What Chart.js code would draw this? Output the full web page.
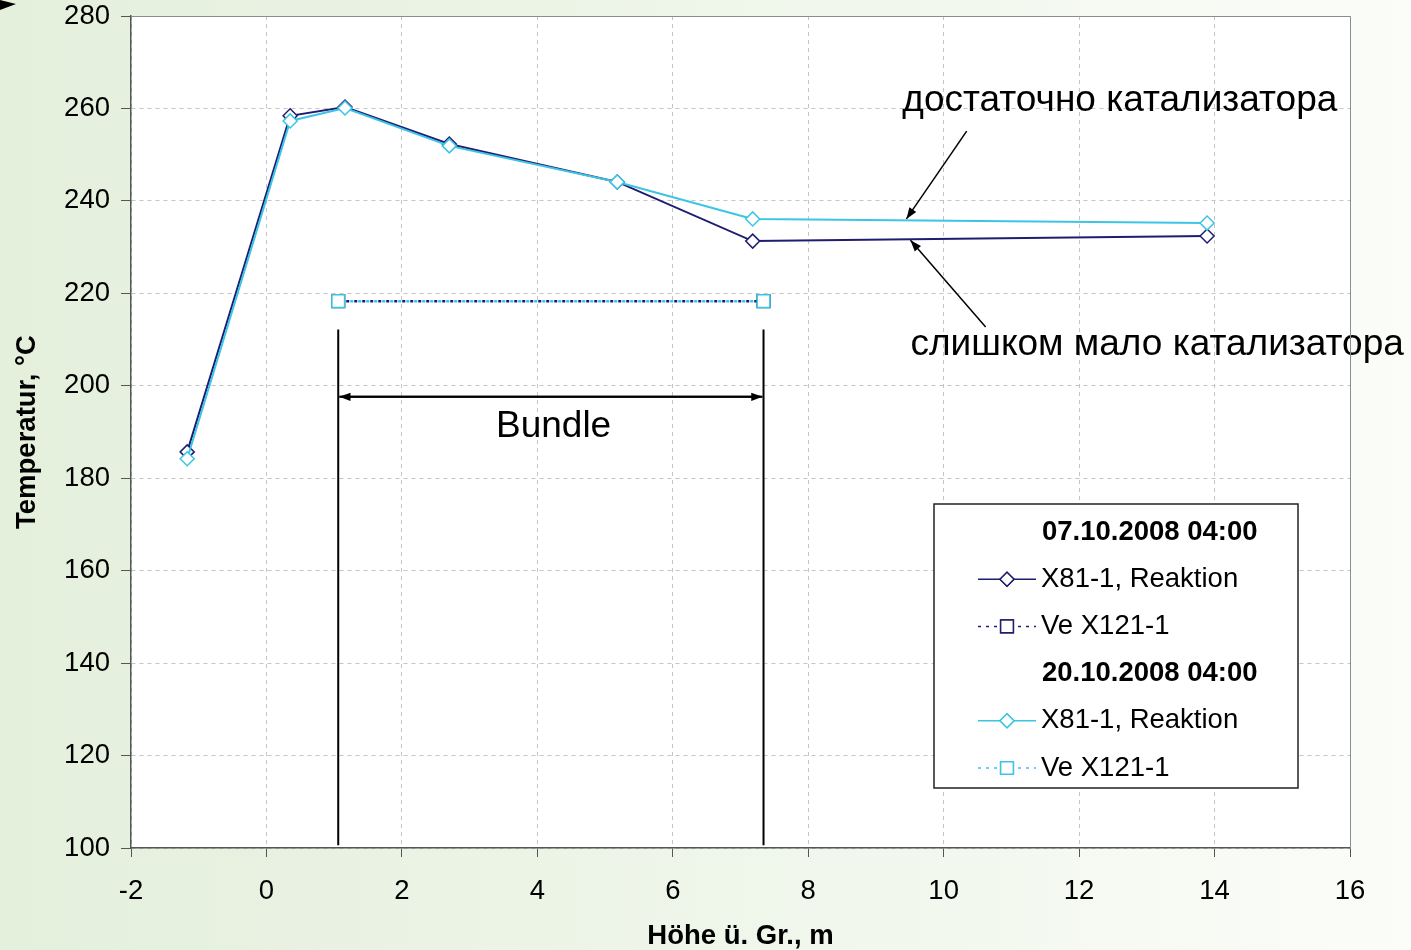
<!DOCTYPE html>
<html>
<head>
<meta charset="utf-8">
<script src="https://cdn.jsdelivr.net/npm/chart.js@4.4.1/dist/chart.umd.min.js"></script>
<style>
  html, body { margin: 0; padding: 0; background: #fff; }
  #wrap { width: 1411px; height: 950px; }
</style>
</head>
<body>
<div id="wrap"><canvas id="tempChart" width="1411" height="950"></canvas></div>
<script>
// positions along the height (m)
var heights = [-1.17, 0.35, 1.16, 2.70, 5.18, 7.18, 13.89];
// X81-1, Reaktion
var reakt0710 = [185.7, 258.4, 260.3, 252.3, 244.1, 231.3, 232.4];
var reakt2010 = [184.2, 257.3, 260.1, 251.9, 244.1, 236.1, 235.2];
// Ve X121-1
var veHeights = [1.06, 7.34];
var ve0710 = [218.3, 218.3];
var ve2010 = [218.3, 218.3];

var xTicks = [-2, 0, 2, 4, 6, 8, 10, 12, 14, 16];
var yTicks = [100, 120, 140, 160, 180, 200, 220, 240, 260, 280];

var darkBlue = '#1f1d70';
var cyan = '#3cc4e4';
var fontFamily = '"Liberation Sans", Arial, sans-serif';

function pairs(xs, ys) {
    return xs.map(function (x, i) { return { x: x, y: ys[i] }; });
}

var backgroundPlugin = {
    id: 'background',
    beforeDraw: function (chart) {
        var ctx = chart.ctx, a = chart.chartArea;
        ctx.save();
        var g = ctx.createLinearGradient(0, 0, chart.width, 0);
        g.addColorStop(0, '#e4efdc');
        g.addColorStop(0.6, '#f1f7ec');
        g.addColorStop(1, '#fbfdf9');
        ctx.fillStyle = g;
        ctx.fillRect(0, 0, chart.width, chart.height);
        ctx.fillStyle = '#ffffff';
        ctx.fillRect(a.left, a.top, a.right - a.left, a.bottom - a.top);
        ctx.restore();
    },
    afterDraw: function (chart) {
        var ctx = chart.ctx, a = chart.chartArea;
        ctx.save();
        // top and right frame
        ctx.strokeStyle = '#8c8c8c';
        ctx.lineWidth = 1;
        ctx.beginPath();
        ctx.moveTo(a.left, a.top + 0.5);
        ctx.lineTo(a.right + 0.5, a.top + 0.5);
        ctx.lineTo(a.right + 0.5, a.bottom);
        ctx.stroke();
        // arrow tip in the corner
        ctx.fillStyle = '#000';
        ctx.beginPath();
        ctx.moveTo(0, 0);
        ctx.lineTo(16, 4);
        ctx.lineTo(0, 10);
        ctx.closePath();
        ctx.fill();
        ctx.restore();
    }
};

function arrow(ctx, x1, y1, x2, y2, head) {
    var ang = Math.atan2(y2 - y1, x2 - x1);
    ctx.beginPath();
    ctx.moveTo(x1, y1);
    ctx.lineTo(x2, y2);
    ctx.stroke();
    ctx.beginPath();
    ctx.moveTo(x2, y2);
    ctx.lineTo(x2 - head * Math.cos(ang - 0.35), y2 - head * Math.sin(ang - 0.35));
    ctx.lineTo(x2 - head * Math.cos(ang + 0.35), y2 - head * Math.sin(ang + 0.35));
    ctx.closePath();
    ctx.fill();
}

var notesPlugin = {
    id: 'notes',
    afterDatasetsDraw: function (chart) {
        var ctx = chart.ctx;
        var xs = chart.scales.x, ys = chart.scales.y;
        var px = function (v) { return xs.getPixelForValue(v); };
        var py = function (v) { return ys.getPixelForValue(v); };
        ctx.save();
        ctx.strokeStyle = '#000';
        ctx.fillStyle = '#000';
        ctx.lineWidth = 2;

        // bundle markers
        [veHeights[0], veHeights[1]].forEach(function (h) {
            ctx.beginPath();
            ctx.moveTo(px(h), py(212.2));
            ctx.lineTo(px(h), py(100.6));
            ctx.stroke();
        });
        arrow(ctx, px(veHeights[1]) - 2, py(197.6), px(veHeights[0]) + 1, py(197.6), 12);
        arrow(ctx, px(veHeights[0]) + 2, py(197.6), px(veHeights[1]) - 1, py(197.6), 12);
        ctx.font = '37px ' + fontFamily;
        ctx.textAlign = 'center';
        ctx.textBaseline = 'middle';
        ctx.fillText('Bundle', px(4.24), py(191.1));

        // catalyst notes
        ctx.lineWidth = 1.5;
        arrow(ctx, px(10.34), py(255.1), px(9.45), py(236.1), 12);
        arrow(ctx, px(10.62), py(212.7), px(9.51), py(231.5), 12);
        ctx.textAlign = 'left';
        ctx.fillText('достаточно катализатора', px(9.39), py(261.6));
        ctx.fillText('слишком мало катализатора', px(9.51), py(208.8));
        ctx.restore();
    }
};

var legendPlugin = {
    id: 'boxLegend',
    afterDraw: function (chart) {
        var ctx = chart.ctx;
        var bx = 934, by = 504, bw = 364, bh = 284;
        ctx.save();
        ctx.fillStyle = '#fff';
        ctx.fillRect(bx, by, bw, bh);
        ctx.strokeStyle = '#222';
        ctx.lineWidth = 1.5;
        ctx.strokeRect(bx, by, bw, bh);

        var rows = [
            { header: '07.10.2008 04:00' },
            { ds: 0 },
            { ds: 1 },
            { header: '20.10.2008 04:00' },
            { ds: 2 },
            { ds: 3 }
        ];
        ctx.textBaseline = 'middle';
        rows.forEach(function (r, i) {
            var y = by + 28 + i * 47.2;
            if (r.header) {
                ctx.fillStyle = '#000';
                ctx.font = 'bold 27.5px ' + fontFamily;
                ctx.textAlign = 'left';
                ctx.fillText(r.header, 1042, y);
                return;
            }
            var d = chart.data.datasets[r.ds];
            ctx.strokeStyle = d.borderColor;
            ctx.lineWidth = 1.5;
            ctx.setLineDash(d.borderDash ? [3, 5] : []);
            ctx.beginPath();
            ctx.moveTo(978, y);
            ctx.lineTo(1036, y);
            ctx.stroke();
            ctx.setLineDash([]);
            Chart.helpers.drawPoint(ctx, {
                pointStyle: d.pointStyle,
                radius: d.pointStyle === 'rect' ? 9 : 7,
                borderWidth: 1.5
            }, 1007, y);
            ctx.fillStyle = '#fff';
            ctx.fill();
            ctx.stroke();
            ctx.fillStyle = '#000';
            ctx.font = '27.5px ' + fontFamily;
            ctx.textAlign = 'left';
            ctx.fillText(d.label, 1041, y);
        });
        ctx.restore();
    }
};

window.onload = function () {
    var ctx = document.getElementById('tempChart').getContext('2d');
    var tempChart = new Chart(ctx, {
        type: 'scatter',
        data: {
            datasets: [{
                label: 'X81-1, Reaktion',
                data: pairs(heights, reakt0710),
                order: 2,
                showLine: true,
                borderColor: darkBlue,
                backgroundColor: '#fff',
                borderWidth: 2,
                pointStyle: 'rectRot',
                pointRadius: 7,
                pointBorderWidth: 1.5
            }, {
                label: 'Ve X121-1',
                data: pairs(veHeights, ve0710),
                order: 3,
                showLine: true,
                borderColor: darkBlue,
                backgroundColor: '#fff',
                borderWidth: 2.5,
                borderDash: [3, 5],
                pointStyle: 'rect',
                pointRadius: 9,
                pointBorderWidth: 1.5
            }, {
                label: 'X81-1, Reaktion',
                data: pairs(heights, reakt2010),
                order: 0,
                showLine: true,
                borderColor: cyan,
                backgroundColor: '#fff',
                borderWidth: 2,
                pointStyle: 'rectRot',
                pointRadius: 7,
                pointBorderWidth: 1.5
            }, {
                label: 'Ve X121-1',
                data: pairs(veHeights, ve2010),
                order: 1,
                showLine: true,
                borderColor: cyan,
                backgroundColor: '#fff',
                borderWidth: 2.5,
                borderDash: [3, 5],
                borderDashOffset: 4,
                pointStyle: 'rect',
                pointRadius: 9,
                pointBorderWidth: 1.5
            }]
        },
        options: {
            responsive: false,
            animation: false,
            layout: {
                padding: { top: 16, right: 61, left: 0, bottom: 0 }
            },
            plugins: {
                legend: { display: false },
                tooltip: { enabled: false }
            },
            scales: {
                x: {
                    type: 'linear',
                    min: xTicks[0],
                    max: xTicks[xTicks.length - 1],
                    afterBuildTicks: function (axis) {
                        axis.ticks = xTicks.map(function (v) { return { value: v }; });
                    },
                    afterFit: function (axis) {
                        axis.height = 102;
                        axis.paddingLeft = 0;
                        axis.paddingRight = 0;
                    },
                    ticks: {
                        color: '#000',
                        padding: 18,
                        maxRotation: 0,
                        font: { size: 27.5, family: fontFamily }
                    },
                    grid: {
                        color: '#c4c4c4',
                        lineWidth: 1,
                        tickLength: 9,
                        tickColor: '#555'
                    },
                    border: { display: true, color: '#555', width: 1.5, dash: [4, 4] },
                    title: {
                        display: true,
                        text: 'Höhe ü. Gr., m',
                        color: '#000',
                        padding: { top: 3, bottom: -3 },
                        font: { size: 27.5, weight: 'bold', family: fontFamily }
                    }
                },
                y: {
                    type: 'linear',
                    min: yTicks[0],
                    max: yTicks[yTicks.length - 1],
                    afterBuildTicks: function (axis) {
                        axis.ticks = yTicks.map(function (v) { return { value: v }; });
                    },
                    afterFit: function (axis) {
                        axis.width = 131;
                        axis.paddingTop = 0;
                        axis.paddingBottom = 0;
                    },
                    ticks: {
                        color: '#000',
                        padding: 11,
                        font: { size: 27.5, family: fontFamily }
                    },
                    grid: {
                        color: '#c4c4c4',
                        lineWidth: 1,
                        tickLength: 10,
                        tickColor: '#555'
                    },
                    border: { display: true, color: '#555', width: 1.5, dash: [4, 4] },
                    title: {
                        display: true,
                        text: 'Temperatur, °C',
                        color: '#000',
                        padding: { top: 11, bottom: 0 },
                        font: { size: 27.5, weight: 'bold', family: fontFamily }
                    }
                }
            }
        },
        plugins: [backgroundPlugin, notesPlugin, legendPlugin]
    });
}
</script>
</body>
</html>
